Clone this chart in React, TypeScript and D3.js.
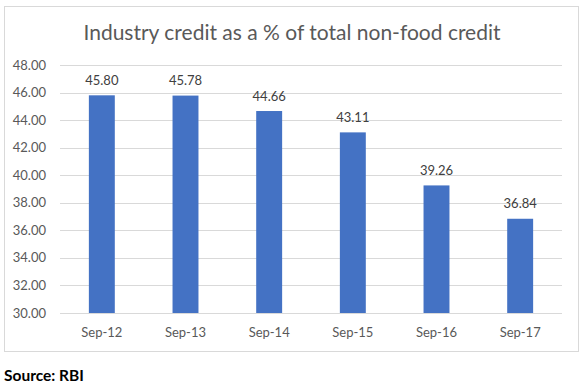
import React from "react";
import * as d3 from "d3";

const categories = ["Sep-12", "Sep-13", "Sep-14", "Sep-15", "Sep-16", "Sep-17"];
const values = [45.8, 45.78, 44.66, 43.11, 39.26, 36.84];
const yTicks = [30, 32, 34, 36, 38, 40, 42, 44, 46, 48];

const W = 586;
const H = 388;
const FONT = "Lato, 'Noto Sans', sans-serif";
const TXT = "#595959";

export default function App() {
  const x = d3.scaleBand<string>().domain(categories).range([60, 562]).paddingInner(0.69).paddingOuter(0.345);
  const y = d3.scaleLinear().domain([30, 48]).range([313, 65]);
  return (
    <svg width={W} height={H} style={{ position: "absolute", left: 0, top: 0 }} fontFamily={FONT}>
      <rect x={0} y={0} width={W} height={H} fill="#fff" />
      <rect x={4.5} y={6.5} width={574} height={345} fill="#fff" stroke="#d9d9d9" strokeWidth={1} />
      <text x={292} y={40} textAnchor="middle" fontSize={21} fill={TXT}>
        Industry credit as a % of total non-food credit
      </text>
      {yTicks.map((t) => (
        <g key={t}>
          <line x1={60} x2={562} y1={Math.round(y(t)) + 0.5} y2={Math.round(y(t)) + 0.5} stroke="#d9d9d9" />
          <text x={46} y={y(t) + 4.5} textAnchor="end" fontSize={13} fill={TXT}>
            {t.toFixed(2)}
          </text>
        </g>
      ))}
      {categories.map((c, i) => (
        <g key={c}>
          <rect x={x(c)} y={y(values[i])} width={x.bandwidth()} height={y(30) - y(values[i])} fill="#4472C4" />
          <text x={(x(c) as number) + x.bandwidth() / 2} y={y(values[i]) - 10.5} textAnchor="middle" fontSize={13} fill="#404040">
            {values[i].toFixed(2)}
          </text>
          <text x={(x(c) as number) + x.bandwidth() / 2} y={337} textAnchor="middle" fontSize={13} fill={TXT}>
            {c}
          </text>
        </g>
      ))}
      <text x={4} y={381} fontSize={15.5} fontWeight="bold" fill="#000">
        Source: RBI
      </text>
    </svg>
  );
}
